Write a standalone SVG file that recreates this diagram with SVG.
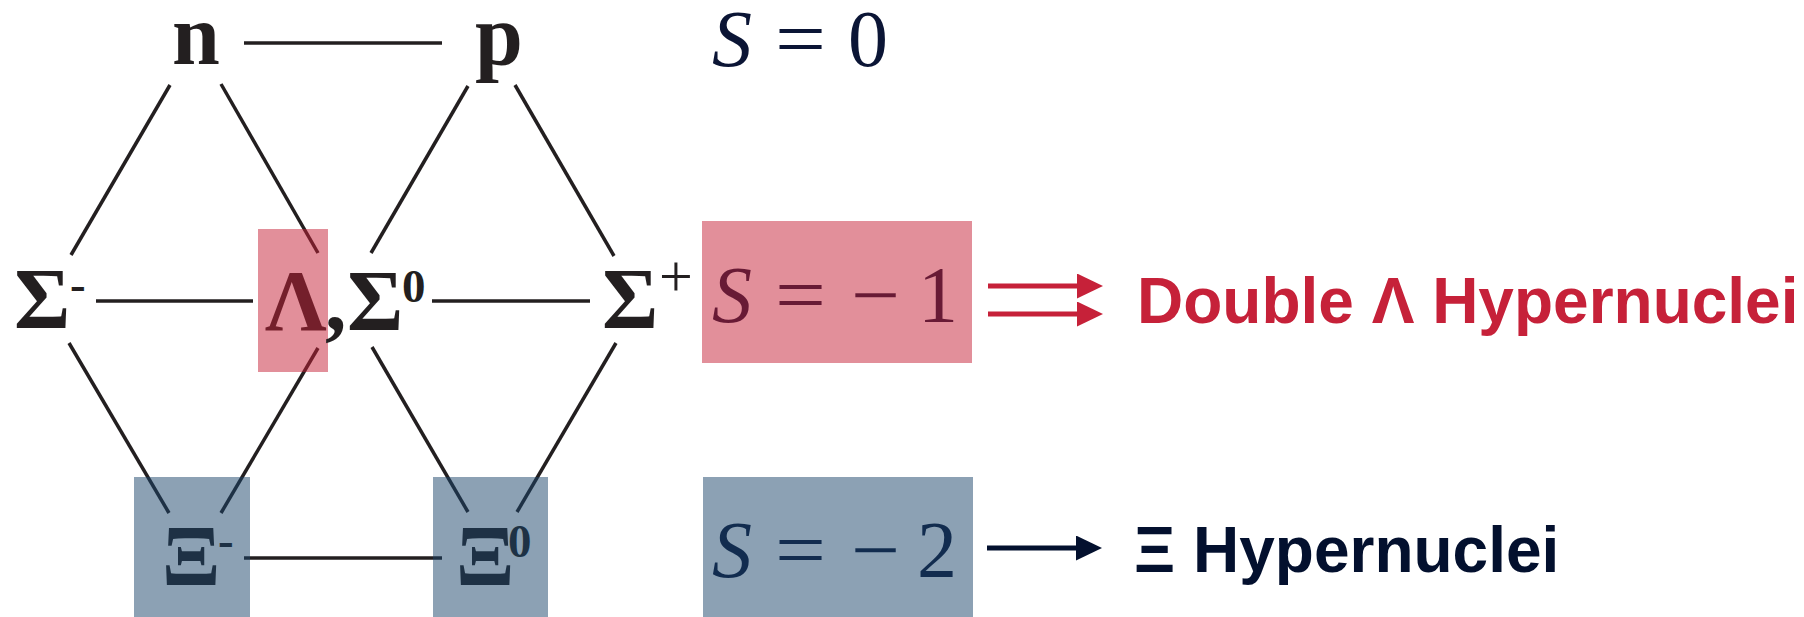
<svg xmlns="http://www.w3.org/2000/svg" width="1804" height="617" viewBox="0 0 1804 617">
<style>
.g{font-family:"Liberation Serif","Times New Roman",serif;font-weight:bold;font-size:86px;fill:#231f20}
.sup{font-family:"Liberation Serif","Times New Roman",serif;font-weight:bold;font-size:47px;fill:#231f20}
.supr{font-family:"Liberation Serif","Times New Roman",serif;font-weight:normal;font-size:60px;fill:#231f20}
.m{font-family:"Liberation Serif","Times New Roman",serif;font-size:80px;fill:#0b1535}
.mi{font-style:italic}
.lab{font-family:"Liberation Sans",Arial,sans-serif;font-weight:bold;font-size:64px}
.red{fill:#c51f35;opacity:0.5}
.blue{fill:#194369;opacity:0.5}
.conn line{stroke:#231f20;stroke-width:3.5}
</style>
<defs>
<marker id="ahr" viewBox="0 0 26 25" markerWidth="26" markerHeight="25" refX="2" refY="12.5" markerUnits="userSpaceOnUse" orient="auto"><path d="M0,0 L26,12.5 L0,25 z" fill="#c62139"/></marker>
<marker id="ahn" viewBox="0 0 26 25" markerWidth="26" markerHeight="25" refX="2" refY="12.5" markerUnits="userSpaceOnUse" orient="auto"><path d="M0,0 L26,12.5 L0,25 z" fill="#03102e"/></marker>
</defs>
<g id="connectors" class="conn">
<line x1="244" y1="43" x2="442" y2="43"/>
<line x1="170" y1="85" x2="71" y2="255"/>
<line x1="221" y1="84" x2="318" y2="253"/>
<line x1="468" y1="86" x2="371" y2="253"/>
<line x1="515" y1="85" x2="614" y2="256"/>
<line x1="96" y1="301" x2="253" y2="301"/>
<line x1="432" y1="301" x2="590" y2="301"/>
<line x1="69" y1="343" x2="169" y2="513"/>
<line x1="318" y1="348" x2="221" y2="513"/>
<line x1="372" y1="347" x2="468" y2="512"/>
<line x1="616" y1="343" x2="517" y2="512"/>
<line x1="244" y1="558" x2="442" y2="558"/>
</g>
<g id="node-n"><text class="g" x="172" y="64">n</text></g>
<g id="node-p"><text class="g" x="475" y="64">p</text></g>
<g id="node-sigma-minus"><text class="g" x="14" y="328">Σ</text><text class="sup" x="70" y="300">-</text></g>
<g id="node-lambda"><text class="g" x="265" y="330">Λ</text><rect class="red" x="258" y="229" width="70" height="143"/></g>
<g id="node-sigma0"><text class="g" x="325" y="330">,<tspan x="347">Σ</tspan></text><text class="sup" x="402" y="302">0</text></g>
<g id="node-sigma-plus"><text class="g" x="602" y="328">Σ</text><text class="supr" x="659" y="296">+</text></g>
<g id="node-xi-minus"><text class="g" x="162" y="585">Ξ</text><text class="sup" x="218" y="556">-</text><rect class="blue" x="134" y="477" width="116" height="140"/></g>
<g id="node-xi0"><text class="g" x="456" y="585">Ξ</text><text class="sup" x="508" y="557">0</text><rect class="blue" x="433" y="477" width="115" height="140"/></g>
<g id="s0">
<text class="m mi" x="712" y="66">S</text>
<text class="m" x="775" y="66" textLength="51" lengthAdjust="spacingAndGlyphs">=</text>
<text class="m" x="848" y="66">0</text>
</g>
<g id="s-1">
<text class="m mi" x="712" y="322">S</text>
<text class="m" x="775" y="322" textLength="51" lengthAdjust="spacingAndGlyphs">=</text>
<text class="m" x="851" y="322" textLength="49" lengthAdjust="spacingAndGlyphs">−</text>
<text class="m" x="918" y="322">1</text>
<rect class="red" x="702" y="221" width="270" height="142"/>
</g>
<g id="s-2">
<text class="m mi" x="712" y="577">S</text>
<text class="m" x="775" y="577" textLength="51" lengthAdjust="spacingAndGlyphs">=</text>
<text class="m" x="851" y="577" textLength="49" lengthAdjust="spacingAndGlyphs">−</text>
<text class="m" x="917" y="577">2</text>
<rect class="blue" x="703" y="477" width="270" height="140"/>
</g>
<g id="arrows">
<line x1="988" y1="286" x2="1079" y2="286" stroke="#c62139" stroke-width="5" marker-end="url(#ahr)"/>
<line x1="988" y1="314" x2="1079" y2="314" stroke="#c62139" stroke-width="5" marker-end="url(#ahr)"/>
<line x1="987" y1="548" x2="1078" y2="548" stroke="#03102e" stroke-width="5" marker-end="url(#ahn)"/>
</g>
<g id="label-double"><text class="lab" x="1137" y="323" fill="#c62139">Double Λ Hypernuclei</text></g>
<g id="label-xi"><text class="lab" x="1134" y="572" fill="#03102e">Ξ Hypernuclei</text></g>
</svg>
